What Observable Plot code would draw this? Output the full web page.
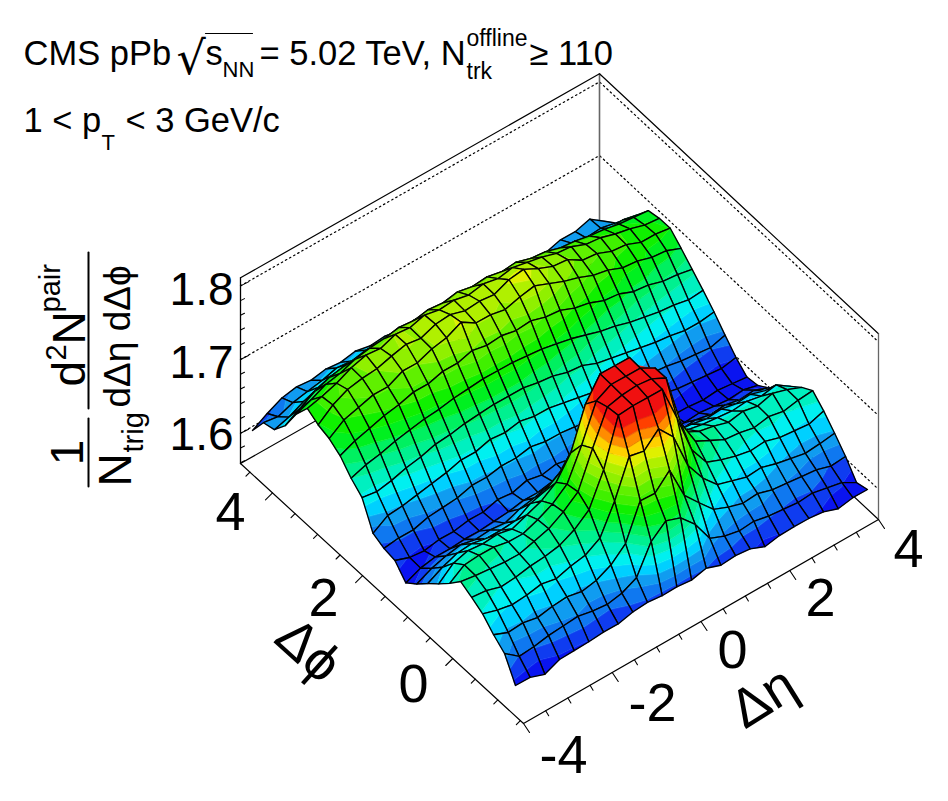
<!DOCTYPE html>
<html><head><meta charset="utf-8">
<style>html,body{margin:0;padding:0;background:#fff}svg{display:block}</style>
<script src="https://cdn.jsdelivr.net/npm/d3@7"></script>
<script src="https://cdn.jsdelivr.net/npm/@observablehq/plot@0.6"></script>
</head><body><div id="chart"></div>
<script>
// Correlation surface, thousandths of the z axis unit; rows are dphi bins, columns are deta bins
const surfaceRows = [
[1600,1600,1593,1602,1603,1604,1606,1606,1611,1613,1611,1612,1610,1615,1608,1610,1608,1600,1604,1605,1605,1603,1596,1600,1600],
[1629,1614,1616,1620,1622,1624,1620,1618,1622,1632,1670,1687,1680,1660,1630,1622,1618,1620,1616,1614,1612,1614,1610,1606,1595],
[1640,1632,1634,1630,1634,1636,1632,1636,1646,1664,1711,1710,1730,1685,1664,1644,1636,1630,1632,1626,1624,1622,1620,1614,1616],
[1654,1648,1644,1646,1650,1646,1652,1656,1668,1707,1757,1753,1772,1750,1700,1672,1652,1646,1640,1642,1636,1632,1628,1630,1633],
[1662,1660,1654,1656,1660,1662,1666,1676,1692,1735,1798,1800,1800,1800,1750,1696,1668,1660,1654,1650,1652,1646,1644,1642,1649],
[1669,1666,1664,1662,1662,1668,1674,1686,1702,1750,1795,1800,1802,1800,1790,1718,1682,1672,1662,1660,1656,1660,1656,1660,1662],
[1652,1666,1668,1668,1664,1664,1672,1682,1698,1740,1789,1800,1800,1800,1789,1712,1680,1670,1666,1660,1664,1660,1666,1660,1652],
[1637,1654,1660,1658,1660,1656,1664,1672,1686,1715,1770,1800,1800,1800,1765,1694,1668,1658,1654,1652,1650,1652,1648,1652,1639],
[1623,1634,1642,1644,1640,1640,1642,1654,1660,1674,1700,1730,1745,1725,1690,1666,1648,1642,1640,1636,1638,1634,1636,1630,1624],
[1608,1618,1624,1628,1624,1626,1624,1632,1636,1642,1648,1658,1660,1654,1644,1634,1628,1624,1618,1620,1616,1618,1614,1616,1608],
[1595,1604,1608,1608,1610,1610,1612,1614,1618,1618,1622,1620,1622,1618,1614,1612,1610,1608,1604,1602,1604,1602,1600,1602,1597],
[1611,1604,1602,1606,1606,1610,1610,1616,1614,1620,1616,1620,1616,1612,1610,1608,1604,1602,1600,1598,1598,1596,1598,1596,1594],
[1613,1616,1616,1622,1624,1626,1632,1632,1636,1636,1640,1636,1636,1634,1630,1628,1622,1620,1616,1612,1608,1606,1604,1602,1606],
[1619,1632,1634,1638,1642,1646,1652,1652,1658,1656,1660,1656,1656,1652,1648,1644,1640,1634,1632,1626,1624,1620,1618,1616,1622],
[1653,1650,1654,1660,1664,1670,1672,1676,1678,1680,1680,1680,1676,1674,1668,1666,1658,1654,1650,1646,1642,1640,1636,1636,1639],
[1665,1672,1676,1682,1686,1690,1692,1696,1698,1700,1700,1700,1698,1696,1692,1688,1682,1676,1672,1666,1662,1658,1656,1652,1654],
[1681,1690,1696,1702,1706,1712,1712,1718,1718,1724,1720,1722,1718,1720,1714,1712,1704,1700,1692,1690,1682,1680,1674,1672,1668],
[1690,1704,1710,1716,1716,1726,1726,1734,1738,1748,1736,1736,1732,1738,1742,1734,1726,1720,1712,1708,1700,1698,1692,1690,1682],
[1694,1710,1720,1724,1726,1732,1737,1734,1742,1744,1738,1740,1738,1747,1750,1740,1732,1730,1718,1716,1708,1706,1698,1698,1695],
[1702,1707,1714,1724,1730,1728,1736,1734,1740,1736,1738,1734,1738,1734,1738,1734,1730,1724,1722,1714,1712,1706,1702,1696,1694],
[1680,1688,1698,1702,1710,1714,1716,1720,1718,1722,1720,1724,1720,1722,1718,1720,1714,1712,1706,1704,1700,1698,1694,1692,1690],
[1650,1662,1674,1682,1686,1686,1692,1692,1694,1694,1696,1696,1698,1694,1694,1692,1690,1686,1684,1680,1678,1674,1672,1674,1670],
[1630,1636,1646,1654,1660,1664,1664,1668,1668,1670,1670,1672,1672,1670,1668,1666,1664,1662,1658,1656,1652,1652,1648,1648,1650],
[1625,1622,1630,1634,1638,1644,1642,1646,1646,1648,1646,1650,1648,1648,1646,1646,1642,1642,1638,1638,1634,1636,1632,1634,1630],
[1600,1612,1622,1626,1624,1628,1626,1630,1626,1628,1624,1628,1624,1626,1626,1624,1624,1622,1620,1622,1620,1626,1626,1632,1618]
];
const palette = ["#0a14f0","#0f3cf0","#0f78f0","#109cf0","#00d0ff","#00f0f0","#00f0c0","#00f090","#00f060","#00f020","#10f000","#40f000","#60f000","#90f000","#b0f000","#e0f000","#ffd000","#ff8c00","#ff4000","#f01010"];
const levelStart = 1.595, levelStep = 0.01;
const zTicks = [1.56,1.58,1.6,1.62,1.64,1.66,1.68,1.7,1.72,1.74,1.76,1.78,1.8];
const zMajor = [1.6,1.7,1.8];
const etaTicks = [-4,-3.5,-3,-2.5,-2,-1.5,-1,-0.5,0,0.5,1,1.5,2,2.5,3,3.5,4];
const phiTicks = [0,0.5,1,1.5,2,2.5,3,3.5,4,4.5,-0.5,-1,-1.5];
const etaLabels = [["-4",563,755],["-2",652,703],["0",732,650],["2",820,598],["4",908,549]];
const phiLabels = [["4",230,512],["2",323,598],["0",413,684]];
const zLabels = [["1.8",233,290],["1.7",233,363],["1.6",233,435]];

// oblique projection of the box
const etaMin=-4, etaMax=4, phiMin=-1.57, phiMax=4.71, zFloor=1.559, pxPerZ=737;
function box(eta,phi,z){
  const a=(eta-etaMin)/(etaMax-etaMin), b=(phi-phiMin)/(phiMax-phiMin);
  return {x:523+355*a-283*b+4*a*b, y:723-204*a-260*b-(z-zFloor)*pxPerZ};
}
// projection of the surface grid
function surf(j,r,z){
  const u=j/24, v=r/24;
  return {x:515+352*u-263*v, y:685-196*u-255*v-(z-1.6)*pxPerZ, z};
}
const bandOf = z => Math.max(0,Math.min(palette.length-1,Math.floor((z-levelStart)/levelStep)));
function clipZ(poly,limit,keepAbove){
  const out=[];
  for(let i=0;i<poly.length;i++){
    const p=poly[i],q=poly[(i+1)%poly.length];
    const pin=keepAbove?p.z>=limit:p.z<=limit, qin=keepAbove?q.z>=limit:q.z<=limit;
    if(pin) out.push(p);
    if(pin!==qin){const t=(limit-p.z)/(q.z-p.z);out.push({x:p.x+t*(q.x-p.x),y:p.y+t*(q.y-p.y),z:limit});}
  }
  return out;
}
const pieces=[]; let id=0;
function emit(poly,fill,stroke,w){id++;for(const p of poly)pieces.push({id,x:p.x,y:p.y,fill,stroke,w});}
for(let r=surfaceRows.length-2;r>=0;r--){
  for(let j=surfaceRows[0].length-2;j>=0;j--){
    const Z=(a,b)=>surfaceRows[a][b]/1000;
    const quad=[surf(j,r,Z(r,j)),surf(j+1,r,Z(r,j+1)),surf(j+1,r+1,Z(r+1,j+1)),surf(j,r+1,Z(r+1,j))];
    const zs=quad.map(d=>d.z), b0=bandOf(Math.min(...zs)), b1=bandOf(Math.max(...zs));
    for(let b=b0;b<=b1;b++){
      let poly=quad;
      if(b>b0) poly=clipZ(poly,levelStart+b*levelStep,true);
      if(b<b1) poly=clipZ(poly,levelStart+(b+1)*levelStep,false);
      if(poly.length>2) emit(poly,palette[b],palette[b],0.5);
    }
    emit(quad,"none","#000",1.35);
  }
}
const seg=(pts,o={})=>Plot.line(pts,{x:"x",y:"y",stroke:"#000",strokeWidth:1,...o});
const P=(...a)=>box(...a);
const B={f:[etaMin,phiMin],r:[etaMax,phiMin],l:[etaMin,phiMax],b:[etaMax,phiMax]};
const zTop=1.811;
const marks=[];
// walls
for(const z of zMajor) marks.push(seg([P(...B.l,z),P(...B.b,z),P(...B.r,z)],{strokeDasharray:"1.5,3.2",strokeWidth:1.2}));
marks.push(seg([P(...B.l,zFloor),P(...B.b,zFloor),P(...B.r,zFloor)],{strokeWidth:1.2}));
marks.push(seg([P(...B.b,zFloor),P(...B.b,zTop)],{stroke:"#666",strokeWidth:1.6}));
marks.push(seg([P(...B.l,zTop),P(...B.b,zTop),P(...B.r,zTop)],{strokeWidth:1.2}));
marks.push(seg([P(...B.l,zFloor),P(...B.l,zTop)],{strokeWidth:1.3}));
marks.push(seg([P(...B.r,zFloor),P(...B.r,zTop)],{stroke:"#666",strokeWidth:1.3}));
// surface
marks.push(Plot.line(pieces,{x:"x",y:"y",z:"id",fill:"fill",stroke:"stroke",strokeWidth:"w",curve:"linear-closed",strokeLinejoin:"round"}));
// front axes
marks.push(seg([P(...B.l,zFloor),P(...B.f,zFloor),P(...B.r,zFloor)],{strokeWidth:1.2}));
const tickMark=(p,dx,dy)=>Plot.line([p,{x:p.x+dx,y:p.y+dy}],{x:"x",y:"y",stroke:"#000",strokeWidth:1.1});
for(const e of etaTicks){const m=e%2===0;marks.push(tickMark(P(e,phiMin,zFloor),m?6:3,m?9:5));}
for(const f of phiTicks){const m=f%2===0;marks.push(tickMark(P(etaMin,f,zFloor),m?-7:-4,m?7:4));}
for(const z of zTicks){const m=zMajor.includes(z);marks.push(tickMark(P(etaMin,phiMax,z),m?8:4,m?-4:-2));}
// text
const font="Liberation Sans, Arial, sans-serif";
const txt=(s,x,y,size,o={})=>Plot.text([0],{x:()=>x,y:()=>y,text:()=>s,fontSize:size,fontFamily:font,fill:"#000",textAnchor:"start",lineAnchor:"bottom",...o});
for(const [s,x,y] of etaLabels) marks.push(txt(s,x,y,54,{textAnchor:"middle",lineAnchor:"middle"}));
for(const [s,x,y] of phiLabels) marks.push(txt(s,x,y,54,{textAnchor:"middle",lineAnchor:"middle"}));
for(const [s,x,y] of zLabels) marks.push(txt(s,x,y,46,{textAnchor:"end",lineAnchor:"middle"}));
marks.push(txt("Δη",763,697,54,{textAnchor:"middle",lineAnchor:"middle",rotate:-32}));
marks.push(txt("Δϕ",308,650,54,{textAnchor:"middle",lineAnchor:"middle",rotate:42}));
// title lines
const base1=57, base2=124, big=34.5;
marks.push(txt("CMS pPb",23,base1+7,big));
marks.push(txt("√",176,base1+16,46,{fontFamily:"DejaVu Sans"}));
marks.push(seg([{x:205,y:33},{x:252,y:33}],{strokeWidth:1.2}));
marks.push(txt("s",205,base1+7,big));
marks.push(txt("NN",222,base1+19,22));
marks.push(txt("= 5.02 TeV, N",259,base1+7,big));
marks.push(txt("offline",466,base1-12,23));
marks.push(txt("trk",466,base1+21,23));
marks.push(txt("≥ 110",529,base1+7,big));
marks.push(txt("1 < p",23,base2+7,big));
marks.push(txt("T",101,base2+25,22));
marks.push(txt("< 3 GeV/c",125,base2+7,big));
// z axis title
const rot={rotate:-90,lineAnchor:"middle"};
marks.push(txt("1",68,452,46,{...rot,textAnchor:"middle"}));
marks.push(seg([{x:88,y:486},{x:88,y:418}],{strokeWidth:2}));
marks.push(txt("N",116,486,46,rot));
marks.push(txt("trig",133,452,29,rot));
marks.push(seg([{x:88,y:408},{x:88,y:252}],{strokeWidth:2}));
marks.push(txt("d",70,386,46,rot));
marks.push(txt("2",56,360,29,rot));
marks.push(txt("N",70,344,46,rot));
marks.push(txt("pair",50,312,29,rot));
marks.push(txt("dΔη dΔϕ",118,407,37,rot));
document.getElementById("chart").append(Plot.plot({
  width:948,height:801,margin:0,
  x:{axis:null,domain:[0,948],range:[0,948]},
  y:{axis:null,domain:[0,801],range:[0,801]},
  color:{type:"identity"},
  style:{background:"#fff"},
  marks
}));
</script></body></html>
